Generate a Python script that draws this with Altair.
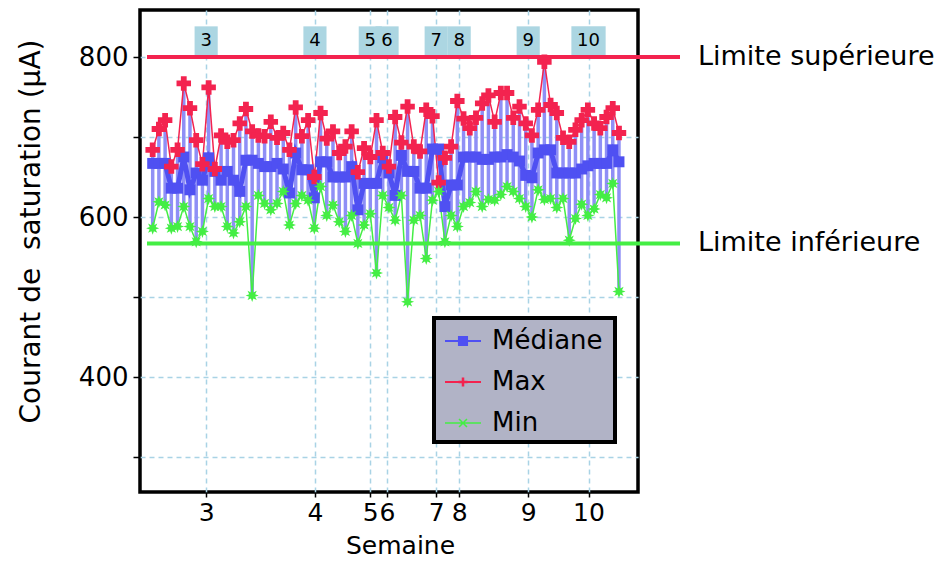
import math
import altair as alt
import pandas as pd

# ---------------- data ----------------
semaine_labels = ["3", "4", "5", "6", "7", "8", "9", "10"]
semaine_pos = [8.6, 26.1, 35.0, 37.7, 45.6, 49.3, 60.4, 70.1]   # sample index where each week starts

max_vals = [684, 710, 721, 663, 684, 767, 736, 696, 666, 762, 660, 702, 694, 696, 717, 735,
            707, 702, 701, 719, 699, 705, 684, 737, 701, 721, 650, 730, 698, 707, 680, 688,
            707, 656, 686, 675, 721, 680, 663, 725, 693, 738, 688, 682, 734, 726, 643, 674,
            688, 745, 723, 711, 724, 742, 752, 719, 755, 755, 724, 738, 717, 702, 734, 794,
            740, 730, 699, 694, 709, 721, 734, 717, 711, 725, 736, 705]
min_vals = [586, 619, 615, 586, 588, 613, 588, 569, 582, 623, 613, 613, 588, 580, 594, 613,
            502, 627, 617, 609, 617, 632, 590, 617, 627, 621, 586, 638, 602, 615, 594, 582,
            602, 567, 590, 604, 530, 627, 612, 596, 627, 494, 596, 602, 548, 621, 632, 569,
            602, 588, 613, 618, 632, 613, 622, 621, 628, 638, 632, 623, 613, 600, 634, 622,
            623, 612, 623, 571, 598, 616, 602, 610, 628, 624, 642, 507]
med_vals = [667, 667, 667, 636, 636, 675, 634, 655, 646, 674, 657, 646, 657, 646, 632, 671,
            671, 667, 663, 663, 667, 660, 630, 680, 659, 659, 624, 669, 669, 650, 650, 650,
            663, 609, 642, 642, 642, 674, 655, 627, 677, 657, 657, 636, 636, 685, 685, 613,
            640, 640, 675, 675, 675, 672, 672, 675, 675, 678, 675, 670, 652, 649, 680, 684,
            684, 655, 655, 655, 655, 660, 664, 667, 667, 667, 684, 669]

serie_noms = ["Médiane", "Max", "Min"]
limite_noms = ["Limite supérieure", "Limite inférieure"]
limite_vals = [800, 567]

# ---------------- styles ----------------
FONT = "DejaVu Sans"
RED = "#f3234f"
GREEN = "#44ee44"
BLUE = "#4f50f2"
LBLUE = "#8f8ff6"
GRID = "#a9d3e5"
BOXC = "#acd6e2"
LEGBG = "#b1b3c6"


def star_path(n=8, r_out=1.0, r_in=0.5):
    pts = []
    for k in range(2 * n):
        a = math.pi * k / n - math.pi / 2
        r = r_out if k % 2 == 0 else r_in
        pts.append(f"{r * math.cos(a):.3f},{r * math.sin(a):.3f}")
    return "M" + "L".join(pts) + "Z"


STAR = star_path()
LINE_BAR = "M-1,-0.055H1V0.055H-1Z"
P_MED = LINE_BAR + "M-0.28,-0.28H0.28V0.28H-0.28Z"
P_MAX = LINE_BAR + "M-0.07,-0.25H0.07V-0.07H0.25V0.07H0.07V0.25H-0.07V0.07H-0.25V-0.07H-0.07Z"
P_MIN = ("M-1,-0.04H1V0.04H-1Z"
         "M-0.25,-0.19L-0.19,-0.25L0.25,0.19L0.19,0.25Z"
         "M0.19,-0.25L0.25,-0.19L-0.19,0.25L-0.25,0.19Z")
BOX_N = "M-0.79,-1H0.79V1H-0.79Z"
BOX_W = "M-1.17,-1H1.17V1H-1.17Z"

n = len(max_vals)
df = pd.DataFrame({"i": list(range(n)), "vmax": max_vals, "vmin": min_vals, "vmed": med_vals})
weeks = pd.DataFrame({"pos": semaine_pos, "label": semaine_labels})
limites = pd.DataFrame({"nom": limite_noms, "valeur": limite_vals})
legend_df = pd.DataFrame({"serie": serie_noms})

xs = alt.Scale(domain=[-2.04, 78.06], nice=False, zero=False)
ys = alt.Scale(domain=[256.25, 858.75], nice=False, zero=False)

pos_str = ",".join(str(p) for p in semaine_pos)
lab_str = ",".join(f"'{l}'" for l in semaine_labels)
x_axis = alt.Axis(
    values=semaine_pos,
    labelExpr=f"[{lab_str}][indexof([{pos_str}], datum.value)]",
    title="Semaine", titleFontSize=25, titleFontWeight="normal", titleColor="black",
    titleX=260, titleY=53, titleBaseline="middle", titleAlign="center",
    labelFontSize=25, labelColor="black", labelPadding=3, labelOverlap=False,
    labelFlush=False, labelBound=False,
    tickSize=5, tickColor="black", tickWidth=1.5,
    domain=False, grid=True, gridColor=GRID, gridDash=[5, 4], gridWidth=1.5,
)
y_axis = alt.Axis(
    values=[300, 400, 500, 600, 700, 800],
    labelExpr="datum.value % 200 == 0 ? datum.label : ''",
    title="Courant de\u00a0 saturation (µA)", titleFontSize=28, titleFontWeight="normal",
    titleColor="black", titleX=-109, titleY=221, titleAngle=270,
    titleAlign="center", titleBaseline="middle",
    labelFontSize=26, labelColor="black", labelPadding=5,
    tickSize=7, tickColor="black", tickWidth=1.5,
    domain=False, grid=True, gridColor=GRID, gridDash=[5, 4], gridWidth=1.5,
)


def X(field):
    return alt.X(field, scale=xs, axis=x_axis)


def Y(field):
    return alt.Y(field, scale=ys, axis=y_axis)


base = alt.Chart(df)

rules = base.mark_rule(color=LBLUE, strokeWidth=3.5).encode(x=X("i:Q"), y=Y("vmin:Q"), y2="vmax:Q")
max_line = base.mark_line(color=RED, strokeWidth=1.5).encode(x=X("i:Q"), y=Y("vmax:Q"))
min_line = base.mark_line(color=GREEN, strokeWidth=1.5).encode(x=X("i:Q"), y=Y("vmin:Q"))
med_line = base.mark_line(color=BLUE, strokeWidth=5).encode(x=X("i:Q"), y=Y("vmed:Q"))
med_pts = base.mark_square(color=BLUE, size=120, opacity=1).encode(x=X("i:Q"), y=Y("vmed:Q"))
max_pts = base.mark_point(shape="cross", filled=True, size=210, color=RED, opacity=1).encode(
    x=X("i:Q"), y=Y("vmax:Q"))
min_pts = base.mark_point(shape=STAR, filled=True, size=170, color=GREEN, opacity=1).encode(
    x=X("i:Q"), y=Y("vmin:Q"))

lim_sup = alt.Chart(limites).transform_filter(alt.datum.valeur > 700).mark_rule(
    color=RED, strokeWidth=4, clip=False).encode(
    y=Y("valeur:Q"), x=alt.value(7), x2=alt.value(540))
lim_inf = alt.Chart(limites).transform_filter(alt.datum.valeur < 700).mark_rule(
    color=GREEN, strokeWidth=4, clip=False).encode(
    y=Y("valeur:Q"), x=alt.value(7), x2=alt.value(540))
lim_txt = alt.Chart(limites).mark_text(
    align="left", baseline="middle", fontSize=27, font=FONT, color="black", clip=False).encode(
    y=Y("valeur:Q"), x=alt.value(558), text="nom:N")

week_box = alt.Chart(weeks).mark_point(filled=True, size=858, color=BOXC, opacity=1).encode(
    x=X("pos:Q"), y=alt.value(31),
    shape=alt.condition("datum.label == '10'", alt.value(BOX_W), alt.value(BOX_N)),
)
week_txt = alt.Chart(weeks).mark_text(fontSize=18, font=FONT, color="black", baseline="middle").encode(
    x=X("pos:Q"), y=alt.value(31), text="label:N")

leg_bg = alt.Chart(pd.DataFrame({"k": [0]})).mark_rect(
    fill=LEGBG, stroke="black", strokeWidth=4).encode(
    x=alt.value(294), x2=alt.value(475), y=alt.value(308), y2=alt.value(432))

leg = alt.Legend(orient="none", legendX=305, legendY=313, title=None,
                 labelFontSize=26, labelFont=FONT, labelColor="black",
                 symbolSize=1296, symbolStrokeWidth=0, rowPadding=10,
                 padding=0, labelOffset=11)
legend_layer = alt.Chart(legend_df).mark_point(filled=True, opacity=1, clip=True).encode(
    x=alt.value(-300), y=alt.value(-300),
    color=alt.Color("serie:N", scale=alt.Scale(domain=serie_noms, range=[BLUE, RED, GREEN]), legend=leg),
    shape=alt.Shape("serie:N", scale=alt.Scale(domain=serie_noms, range=[P_MED, P_MAX, P_MIN]), legend=leg),
)

chart = alt.layer(
    rules, max_line, min_line, med_line, med_pts, max_pts, min_pts,
    week_box, week_txt, lim_sup, lim_inf, lim_txt, leg_bg, legend_layer,
).properties(
    width=498, height=482,
    autosize=alt.AutoSizeParams(type="none"),
    padding={"left": 132, "top": 2, "right": 298, "bottom": 68},
).configure(font=FONT).configure_view(stroke="black", strokeWidth=3.5)

chart.save("out.html", embed_options={"renderer": "svg", "actions": False})
